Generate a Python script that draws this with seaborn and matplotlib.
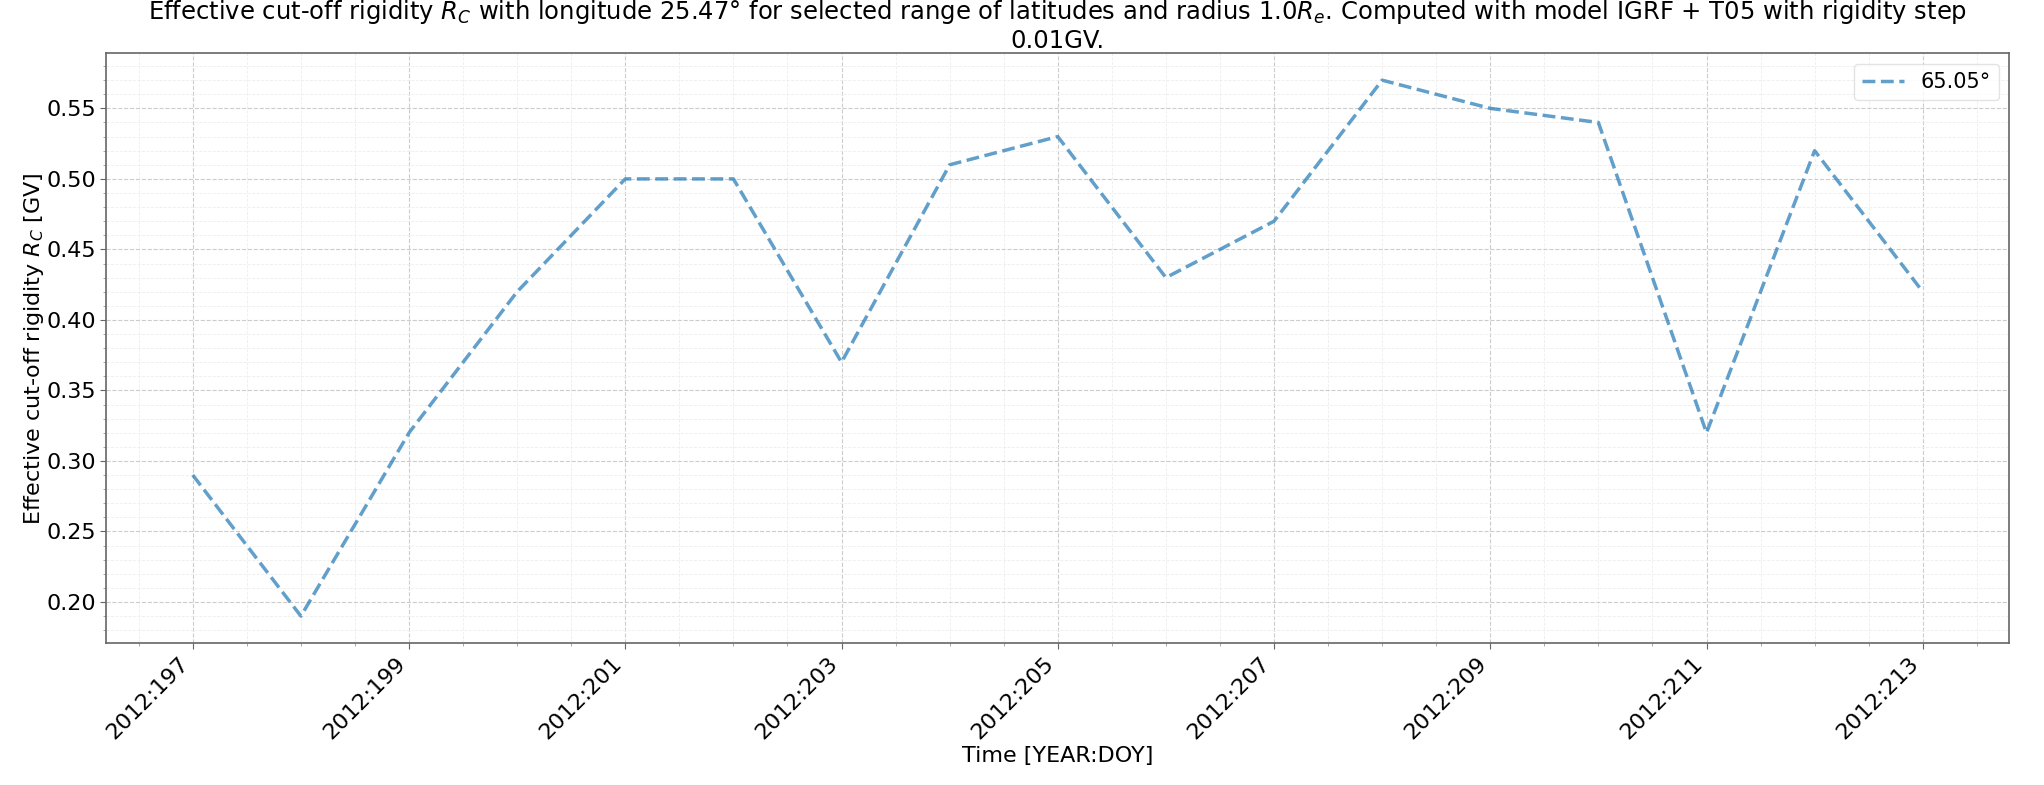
import matplotlib
matplotlib.use("Agg")
import matplotlib.pyplot as plt
from matplotlib.ticker import FixedLocator, MultipleLocator, FuncFormatter
import seaborn as sns
import pandas as pd

year = 2012
doy = [197, 198, 199, 200, 201, 202, 203, 204, 205, 206, 207, 208, 209, 210, 211, 212, 213]
rigidity = [0.29, 0.19, 0.32, 0.42, 0.50, 0.50, 0.37, 0.51, 0.53, 0.43, 0.47, 0.57, 0.55, 0.54, 0.32, 0.52, 0.42]
tick_doys = doy[::2]
series_label = "65.05°"

df = pd.DataFrame({"doy": doy, "rc": rigidity})

sns.set_style("whitegrid")
plt.rcParams['font.family'] = ['DejaVu Sans']
plt.rcParams['text.color'] = 'black'
plt.rcParams['axes.labelcolor'] = 'black'
plt.rcParams['xtick.color'] = 'black'
plt.rcParams['ytick.color'] = 'black'

fig = plt.figure(figsize=(20.44, 7.85), dpi=100)
ax = fig.add_axes([0.052, 0.181, 0.931, 0.751])

sns.lineplot(data=df, x="doy", y="rc", ax=ax, color="#1f77b4", alpha=0.7,
             linestyle="--", linewidth=2.5, label=series_label)

ax.xaxis.set_major_locator(FixedLocator(tick_doys))
ax.xaxis.set_minor_locator(MultipleLocator(0.5))
ax.yaxis.set_major_locator(MultipleLocator(0.05))
ax.yaxis.set_minor_locator(MultipleLocator(0.01))
ax.xaxis.set_major_formatter(FuncFormatter(lambda v, p: f"{year}:{int(round(v))}"))
ax.yaxis.set_major_formatter(FuncFormatter(lambda v, p: f"{v:.2f}"))

ax.grid(True, which="major", linestyle="--", color="#cccccc", linewidth=0.8)
ax.grid(True, which="minor", linestyle="--", color="#eeeeee", linewidth=0.6)
ax.set_axisbelow(True)

for s in ax.spines.values():
    s.set_color("#666666")
    s.set_linewidth(1.2)

ax.tick_params(axis="both", which="major", labelsize=16, length=4, color="#666666", bottom=True, left=True)
ax.tick_params(axis="both", which="minor", length=2, color="#999999", bottom=True, left=True)
plt.setp(ax.get_xticklabels(), rotation=45, ha="right")

ax.set_xlabel("Time [YEAR:DOY]", fontsize=16, labelpad=2)
ax.set_ylabel("Effective cut-off rigidity $R_C$ [GV]", fontsize=16, labelpad=0)
ax.set_title("Effective cut-off rigidity $R_C$ with longitude 25.47° for selected range of latitudes and radius 1.0$R_e$. "
             "Computed with model IGRF + T05 with rigidity step\n0.01GV.", fontsize=17.5, color="black", pad=3)

leg = ax.legend(loc="upper right", fontsize=15, frameon=True)
leg.get_frame().set_edgecolor("#dddddd")

fig.savefig("out.png", dpi=100)
